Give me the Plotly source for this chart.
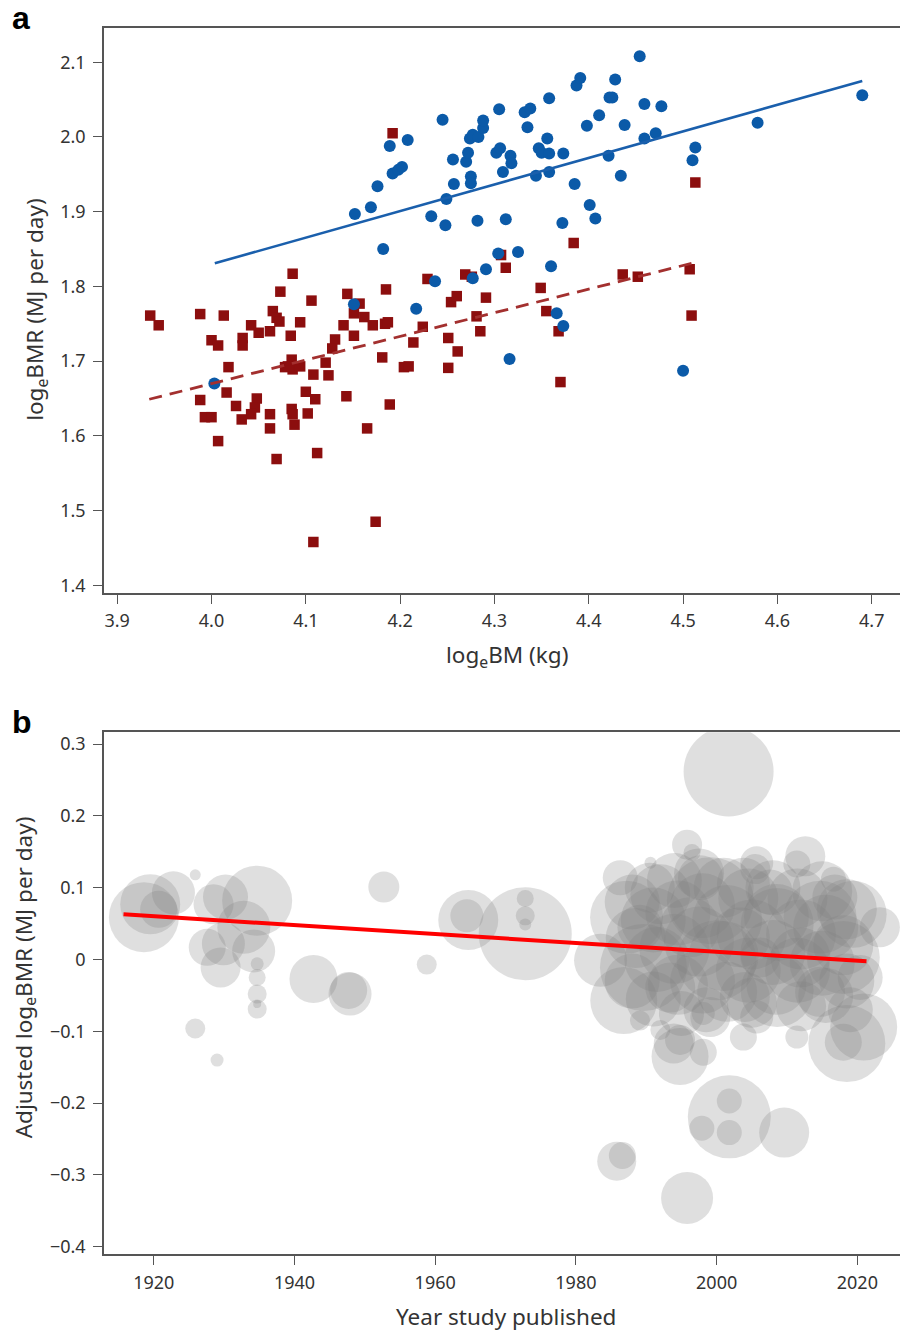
import plotly.graph_objects as go

# ---------------- Panel a data ----------------
red_bm = [3.935, 3.944, 3.988, 4.013, 4.065, 4.069, 4.072, 4.086, 4.073, 4.106,
          4.094, 4.042, 4.050, 4.062, 4.033, 4.033, 4.084, 4.000, 4.007, 4.144,
          4.157, 4.151, 4.162, 4.171, 4.184, 4.187, 4.140, 4.151, 4.131, 4.128,
          4.185, 4.192, 4.224, 4.214, 4.229, 4.251, 4.018, 4.085, 4.078, 4.086,
          4.094, 4.081, 4.121, 4.108, 4.124, 4.181, 4.204, 4.209, 4.251, 4.016,
          3.988, 4.026, 4.048, 4.046, 4.042, 4.032, 3.993, 4.000, 4.062, 4.062,
          4.085, 4.086, 4.088, 4.102, 4.100, 4.110, 4.143, 4.189, 4.165, 4.007,
          4.069, 4.112, 4.174, 4.108, 4.269, 4.276, 4.254, 4.260, 4.291, 4.281,
          4.285, 4.349, 4.355, 4.368, 4.384, 4.307, 4.312, 4.436, 4.452, 4.507,
          4.509, 4.513, 4.370, 4.261]
red_bmr = [1.761, 1.748, 1.763, 1.761, 1.767, 1.758, 1.753, 1.817, 1.793, 1.781,
           1.752, 1.748, 1.738, 1.740, 1.731, 1.721, 1.734, 1.728, 1.721, 1.790,
           1.777, 1.764, 1.759, 1.748, 1.750, 1.752, 1.748, 1.734, 1.729, 1.717,
           1.796, 2.005, 1.746, 1.725, 1.810, 1.731, 1.692, 1.702, 1.692, 1.689,
           1.693, 1.693, 1.698, 1.682, 1.681, 1.705, 1.692, 1.693, 1.691, 1.658,
           1.648, 1.640, 1.650, 1.638, 1.629, 1.622, 1.625, 1.625, 1.629, 1.610,
           1.636, 1.629, 1.615, 1.630, 1.659, 1.649, 1.653, 1.642, 1.610, 1.593,
           1.569, 1.577, 1.485, 1.458, 1.816, 1.813, 1.779, 1.787, 1.785, 1.760,
           1.740, 1.798, 1.767, 1.740, 1.858, 1.842, 1.825, 1.816, 1.813, 1.823,
           1.761, 1.939, 1.672, 1.713]

blue_bm = [4.003, 4.152, 4.169, 4.176, 4.189, 4.192, 4.198, 4.202, 4.208, 4.182,
           4.245, 4.256, 4.257, 4.233, 4.248, 4.249, 4.270, 4.272, 4.274, 4.277,
           4.283, 4.288, 4.288, 4.275, 4.275, 4.282, 4.302, 4.306, 4.309, 4.317,
           4.318, 4.312, 4.305, 4.332, 4.338, 4.335, 4.347, 4.350, 4.358, 4.356,
           4.373, 4.358, 4.344, 4.358, 4.387, 4.391, 4.398, 4.385, 4.401, 4.407,
           4.372, 4.325, 4.304, 4.291, 4.237, 4.277, 4.360, 4.217, 4.151, 4.366,
           4.373, 4.316, 4.500, 4.454, 4.428, 4.422, 4.425, 4.459, 4.477, 4.411,
           4.438, 4.459, 4.471, 4.579, 4.690, 4.513, 4.510, 4.421, 4.434]
blue_bmr = [1.670, 1.897, 1.906, 1.934, 1.988, 1.951, 1.956, 1.960, 1.996, 1.850,
            2.023, 1.970, 1.937, 1.894, 1.882, 1.917, 1.967, 1.979, 1.998, 2.003,
            2.000, 2.012, 2.022, 1.947, 1.938, 1.888, 1.979, 1.985, 1.953, 1.975,
            1.965, 1.890, 2.037, 2.033, 2.038, 2.013, 1.985, 1.979, 1.978, 1.998,
            1.978, 1.953, 1.948, 2.052, 2.069, 2.079, 2.015, 1.937, 1.909, 1.891,
            1.885, 1.846, 1.844, 1.823, 1.807, 1.811, 1.827, 1.770, 1.776, 1.764,
            1.747, 1.703, 1.687, 2.108, 2.077, 2.053, 2.053, 2.044, 2.041, 2.029,
            2.016, 1.998, 2.005, 2.019, 2.056, 1.986, 1.969, 1.975, 1.948]

blue_fit_bm = [4.0035, 4.690]
blue_fit_bmr = [1.831, 2.075]
red_fit_bm = [3.934, 4.514]
red_fit_bmr = [1.649, 1.8325]

a_xticks = [3.9, 4.0, 4.1, 4.2, 4.3, 4.4, 4.5, 4.6, 4.7]
a_yticks = [1.4, 1.5, 1.6, 1.7, 1.8, 1.9, 2.0, 2.1]

# ---------------- Panel b data ----------------
study_year = [1918.6, 1919.5, 1922.8, 1920.7, 1925.9, 1928.5, 1934.7, 1932.8, 1929.9, 1927.6,
              1929.5, 1934.2, 1934.7, 1934.7, 1934.7, 1934.7, 1934.7, 1942.7, 1947.7, 1947.9,
              1952.7, 1958.8, 1964.7, 1964.5, 1972.8, 1972.8, 1972.8, 1972.8, 1925.9, 1929.0,
              1930.2,
              2001.7, 1995.8, 1996.5, 1990.6, 2005.7, 2005.5, 2012.6, 2011.4, 2016.6,
              1987.2, 1989.6, 1999.1, 2000.0, 2008.6, 2014.7, 2018.0, 2008.6, 1992.0, 2003.8,
              2019.4, 2023.2, 1986.8, 1983.5, 1996.2, 2003.3, 2011.9, 1993.4, 2004.0, 2014.7,
              1997.7, 2007.6, 2016.8, 1989.1, 2020.4, 1999.1, 2006.2, 1986.3,
              1993.9, 1994.8, 1994.8, 1998.1, 2003.8, 2005.7, 2011.4, 1998.1, 1989.1, 1992.0,
              2018.5, 2018.0, 2020.9,
              2001.8, 2001.8, 2001.8, 1997.9, 2009.6, 1985.8, 1986.6, 1995.8,
              1988.0, 1988.5, 1988.0, 1990.5, 1991.0, 1991.5, 1991.0,
              1994.0, 1994.5, 1994.0, 1994.5, 1995.0,
              1997.5, 1998.0, 1997.5, 1998.0, 1998.5,
              2001.0, 2001.5, 2001.0, 2001.5,
              2004.5, 2005.0, 2004.5, 2005.0,
              2008.0, 2008.5, 2008.0, 2008.5,
              2011.5, 2012.0, 2011.5, 2012.0,
              2015.0, 2015.5, 2015.0, 2015.5,
              2018.5, 2018.0, 2018.5, 2019.0]
adj_bmr = [0.059, 0.077, 0.093, 0.070, 0.118, 0.077, 0.082, 0.045, 0.022, 0.017,
           -0.011, 0.012, -0.006, -0.025, -0.048, -0.069, -0.062, -0.027, -0.043, -0.048,
           0.101, -0.007, 0.055, 0.061, 0.036, 0.085, 0.061, 0.049, -0.096, -0.140,
           0.087,
           0.262, 0.160, 0.149, 0.135, 0.135, 0.126, 0.144, 0.133, 0.112,
           0.059, -0.011, 0.082, -0.001, 0.049, 0.059, 0.003, -0.043, 0.091, 0.105,
           0.063, 0.045, -0.057, -0.001, 0.045, 0.031, 0.003, -0.039, -0.052, -0.045,
           0.114, 0.094, 0.087, 0.045, -0.025, -0.080, 0.003, 0.114,
           -0.117, -0.135, -0.112, -0.129, -0.108, -0.080, -0.108, -0.075, -0.085, -0.098,
           -0.117, -0.115, -0.094,
           -0.219, -0.197, -0.241, -0.235, -0.241, -0.281, -0.273, -0.332,
           0.080, 0.030, -0.030, 0.100, 0.055, 0.000, -0.055,
           0.110, 0.065, 0.015, -0.035, -0.075,
           0.120, 0.075, 0.025, -0.030, -0.070,
           0.100, 0.055, 0.005, -0.045,
           0.085, 0.035, -0.015, -0.060,
           0.100, 0.060, 0.010, -0.035,
           0.085, 0.035, -0.015, -0.065,
           0.095, 0.045, -0.005, -0.050,
           0.070, 0.020, -0.030, -0.070]
study_weight = [70, 60, 43, 37, 11, 40, 70, 53, 43, 37,
                40, 43, 13, 17, 19, 19, 8, 48, 37, 43,
                31, 20, 60, 33, 93, 17, 19, 12, 20, 13,
                45,
                90, 30, 17, 12, 33, 30, 40, 27, 25,
                73, 87, 87, 80, 73, 73, 73, 73, 60, 53,
                67, 40, 67, 53, 60, 60, 60, 50, 50, 50,
                45, 45, 45, 45, 45, 40, 40, 35,
                40, 57, 30, 27, 27, 33, 23, 23, 20, 20,
                77, 37, 67,
                83, 25, 25, 25, 50, 39, 27, 52,
                55, 60, 55, 50, 65, 65, 55,
                55, 65, 70, 60, 45,
                50, 65, 70, 65, 45,
                60, 70, 70, 60,
                60, 70, 65, 50,
                55, 65, 65, 60,
                60, 70, 65, 50,
                60, 65, 65, 55,
                60, 60, 55, 45]

year_fit = [1915.7, 2021.3]
adj_fit = [0.063, -0.0024]

b_xticks = [1920, 1940, 1960, 1980, 2000, 2020]
b_yticks = [-0.4, -0.3, -0.2, -0.1, 0.0, 0.1, 0.2, 0.3]
b_yticktext = ["\u22120.4", "\u22120.3", "\u22120.2", "\u22120.1", "0", "0.1", "0.2", "0.3"]

# ---------------- Figure ----------------
W, H = 900, 1336
FONT = "Noto Sans"
TICKCOL = "#333333"
LINECOL = "#555555"

fig = go.Figure()

fig.add_trace(go.Scatter(x=red_bm, y=red_bmr, mode="markers",
                         marker=dict(symbol="square", size=10.5, color="#8c0e0e"),
                         xaxis="x", yaxis="y", showlegend=False))
fig.add_trace(go.Scatter(x=blue_bm, y=blue_bmr, mode="markers",
                         marker=dict(symbol="circle", size=12, color="#0b5aa8"),
                         xaxis="x", yaxis="y", showlegend=False))
fig.add_trace(go.Scatter(x=blue_fit_bm, y=blue_fit_bmr, mode="lines",
                         line=dict(color="#1a5fac", width=2.6),
                         xaxis="x", yaxis="y", showlegend=False))
fig.add_trace(go.Scatter(x=red_fit_bm, y=red_fit_bmr, mode="lines",
                         line=dict(color="#a3302f", width=2.8, dash="13px,8px"),
                         xaxis="x", yaxis="y", showlegend=False))

fig.add_trace(go.Scatter(x=study_year, y=adj_bmr, mode="markers",
                         marker=dict(size=study_weight, sizemode="diameter",
                                     color="rgba(128,128,128,0.36)",
                                     line=dict(width=0)),
                         xaxis="x2", yaxis="y2", showlegend=False))
fig.add_trace(go.Scatter(x=year_fit, y=adj_fit, mode="lines",
                         line=dict(color="#ff0000", width=4),
                         xaxis="x2", yaxis="y2", showlegend=False))


def fx(p):
    return p / W


def fy(p):
    return 1 - p / H


axis_common = dict(showgrid=False, zeroline=False, showline=True, linecolor=LINECOL,
                   linewidth=1.5, ticks="outside", ticklen=9, tickwidth=1.3,
                   tickcolor=LINECOL, tickfont=dict(family=FONT, size=18, color=TICKCOL))

fig.update_layout(
    width=W, height=H, margin=dict(l=0, r=0, t=0, b=0),
    paper_bgcolor="white", plot_bgcolor="white",
    xaxis=dict(domain=[fx(104), 1.0], range=[3.886, 4.73], tickvals=a_xticks,
               tickformat=".1f", mirror=True, anchor="y", ticklabelstandoff=2, **axis_common),
    yaxis=dict(domain=[fy(594), fy(27)], range=[1.390, 2.146], tickvals=a_yticks,
               tickformat=".1f", anchor="x", ticklabelstandoff=4, **axis_common),
    xaxis2=dict(domain=[fx(104), 1.0], range=[1912.93, 2026.06], tickvals=b_xticks,
                mirror=True, anchor="y2", ticklabelstandoff=2, **axis_common),
    yaxis2=dict(domain=[fy(1258), fy(734)], range=[-0.4105, 0.3166], tickvals=b_yticks,
                ticktext=b_yticktext, anchor="x2", ticklabelstandoff=4, **axis_common),
)

ann_font = dict(family=FONT, size=22.5, color=TICKCOL)
annotations = [
    dict(text="<b>a</b>", x=fx(10), y=fy(37), xanchor="left", yanchor="bottom",
         font=dict(family="Liberation Sans", size=32, color="black")),
    dict(text="<b>b</b>", x=fx(10), y=fy(744), xanchor="left", yanchor="bottom",
         font=dict(family="Liberation Sans", size=32, color="black")),
    dict(text="log<sub>e</sub>BMR (MJ per day)", x=fx(36), y=fy(310), textangle=-90,
         xanchor="center", yanchor="middle", font=ann_font),
    dict(text="log<sub>e</sub>BM (kg)", x=fx(507), y=fy(657),
         xanchor="center", yanchor="middle", font=ann_font),
    dict(text="Adjusted log<sub>e</sub>BMR (MJ per day)", x=fx(25), y=fy(980), textangle=-90,
         xanchor="center", yanchor="middle", font=ann_font),
    dict(text="Year study published", x=fx(506), y=fy(1320),
         xanchor="center", yanchor="middle", font=ann_font),
]
for a in annotations:
    a.update(xref="paper", yref="paper", showarrow=False)
fig.update_layout(annotations=annotations)

# remove the browser's default page margin so the figure fills the window exactly
fig.write_html("out.html",
               config={"displayModeBar": False},
               post_script="document.body.style.margin='0';"
                           "document.body.style.overflow='hidden';")
